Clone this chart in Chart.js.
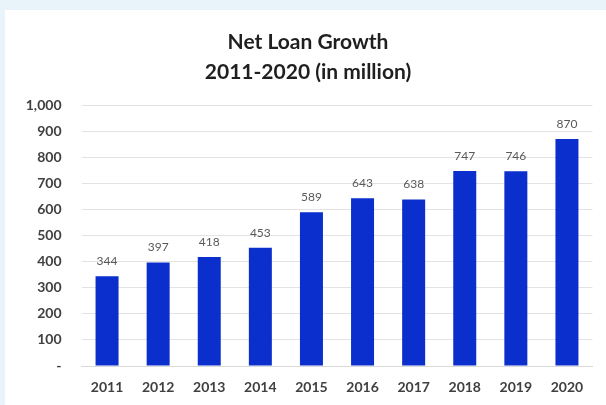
<!DOCTYPE html>
<html>
<head>
<meta charset="utf-8">
<script src="https://cdn.jsdelivr.net/npm/chart.js@4.4.0/dist/chart.umd.min.js"></script>
<style>
  html, body { margin: 0; padding: 0; }
  body { width: 606px; height: 405px; background: #e9f3fa; overflow: hidden; position: relative; }
  #panel { position: absolute; left: 5px; top: 10px; width: 601px; height: 395px; background: #fff; }
</style>
</head>
<body>
<div id="panel"><canvas id="loanChart" width="601" height="395"></canvas></div>
<script>
const years = ["2011", "2012", "2013", "2014", "2015", "2016", "2017", "2018", "2019", "2020"];
const netLoans = [344, 397, 418, 453, 589, 643, 638, 747, 746, 870];
const yTicks = [0, 100, 200, 300, 400, 500, 600, 700, 800, 900, 1000];

const FONT = "Lato, 'Open Sans', sans-serif";

// value labels above each bar
const barLabels = {
  id: "barLabels",
  afterDatasetsDraw(chart) {
    const ctx = chart.ctx;
    const meta = chart.getDatasetMeta(0);
    ctx.save();
    ctx.font = "12px " + FONT;
    ctx.fillStyle = "#595959";
    ctx.textAlign = "center";
    ctx.textBaseline = "bottom";
    meta.data.forEach((bar, i) => {
      ctx.fillText(netLoans[i], bar.x, bar.y - 9);
    });
    ctx.restore();
  }
};

new Chart(document.getElementById("loanChart"), {
  type: "bar",
  data: {
    labels: years,
    datasets: [{
      data: netLoans,
      backgroundColor: "#0a2fcc",
      barPercentage: 0.9,
      categoryPercentage: 0.5
    }]
  },
  options: {
    responsive: false,
    animation: false,
    layout: { padding: { left: 18.5, right: 13.5, top: 0, bottom: 0 } },
    plugins: {
      legend: { display: false },
      tooltip: { enabled: false },
      title: {
        display: true,
        text: ["Net Loan Growth", "2011-2020 (in million)"],
        color: "#1f1f1f",
        font: { family: FONT, size: 21, weight: "bold", lineHeight: 1.43 },
        padding: { top: 17, bottom: 18 }
      }
    },
    scales: {
      x: {
        grid: { display: false, drawTicks: false },
        border: { color: "#d9d9d9" },
        ticks: {
          color: "#404040",
          padding: 13,
          font: { family: FONT, size: 14, weight: "bold" }
        },
        afterFit(scale) { scale.height = 39; }
      },
      y: {
        min: 0,
        max: 1000,
        afterBuildTicks(scale) { scale.ticks = yTicks.map(v => ({ value: v })); },
        grid: { color: "#e3e3e3", drawTicks: false },
        border: { display: false },
        ticks: {
          color: "#404040",
          padding: 20,
          font: { family: FONT, size: 14, weight: "bold" },
          callback: v => v === 0 ? "-" : v.toLocaleString("en-US")
        },
        afterFit(scale) { scale.width = 58; }
      }
    }
  },
  plugins: [barLabels]
});
</script>
</body>
</html>
